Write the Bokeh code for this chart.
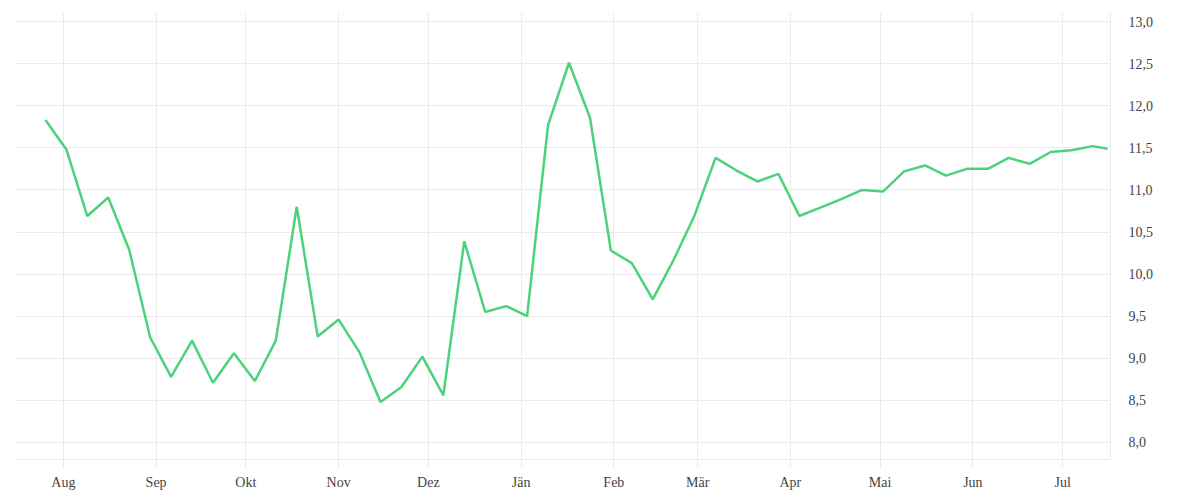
import pandas as pd
from bokeh.plotting import figure
from bokeh.models import Range1d, FixedTicker, LinearAxis, ColumnDataSource
from bokeh.embed import file_html
from bokeh.resources import INLINE

# --- data ---
dates = list(pd.date_range("2022-07-26", periods=51, freq="7D").strftime("%Y-%m-%d")) + ["2023-07-16"]
values = [11.83, 11.48, 10.69, 10.91, 10.29, 9.25, 8.78, 9.21, 8.71, 9.06,
          8.73, 9.21, 10.80, 9.26, 9.46, 9.07, 8.48, 8.66, 9.02, 8.56,
          10.39, 9.55, 9.62, 9.50, 11.77, 12.51, 11.86, 10.28, 10.13, 9.70,
          10.17, 10.70, 11.38, 11.23, 11.10, 11.19, 10.69, 10.79, 10.89, 11.00,
          10.98, 11.22, 11.29, 11.17, 11.25, 11.25, 11.38, 11.31, 11.45, 11.47,
          11.52, 11.49]
month_ticks = ["2022-08-01", "2022-09-01", "2022-10-01", "2022-11-01", "2022-12-01", "2023-01-01",
               "2023-02-01", "2023-03-01", "2023-04-01", "2023-05-01", "2023-06-01", "2023-07-01"]
month_labels = ["Aug", "Sep", "Okt", "Nov", "Dez", "Jän", "Feb", "Mär", "Apr", "Mai", "Jun", "Jul"]
y_ticks = [8.0, 8.5, 9.0, 9.5, 10.0, 10.5, 11.0, 11.5, 12.0, 12.5, 13.0]
y_labels = ["8,0", "8,5", "9,0", "9,5", "10,0", "10,5", "11,0", "11,5", "12,0", "12,5", "13,0"]

FONT = "Liberation Serif"
TEXT = "#444444"
GRID = "#ebebeb"

src = ColumnDataSource(dict(x=pd.to_datetime(dates), y=values))

p = figure(width=1192, height=492, x_axis_type="datetime", y_axis_location=None,
           output_backend="svg", toolbar_location=None,
           min_border_left=15, min_border_right=82, min_border_top=12, min_border_bottom=33)
p.x_range = Range1d(pd.Timestamp("2022-07-16"), pd.Timestamp("2023-07-17"))
p.y_range = Range1d(7.798, 13.107)
p.outline_line_color = None
p.background_fill_color = "white"
p.border_fill_color = "white"

p.line("x", "y", source=src, line_color="#4cd27b", line_width=2.5)

tick_ms = [pd.Timestamp(d).value / 1e6 for d in month_ticks]
xa = p.xaxis[0]
xa.ticker = FixedTicker(ticks=tick_ms)
xa.major_label_overrides = {t: l for t, l in zip(tick_ms, month_labels)}
xa.axis_line_color = GRID
xa.major_tick_line_color = GRID
xa.major_tick_in = 0
xa.major_tick_out = 9
xa.minor_tick_line_color = None
xa.major_label_standoff = 6
xa.major_label_text_font = FONT
xa.major_label_text_font_size = "14px"
xa.major_label_text_color = TEXT

ya = LinearAxis(ticker=FixedTicker(ticks=y_ticks))
ya.major_label_overrides = {t: l for t, l in zip(y_ticks, y_labels)}
ya.axis_line_color = GRID
ya.major_tick_line_color = None
ya.minor_tick_line_color = None
ya.major_tick_in = 0
ya.major_tick_out = 0
ya.major_label_standoff = 18
ya.major_label_text_font = FONT
ya.major_label_text_font_size = "14px"
ya.major_label_text_color = TEXT
p.add_layout(ya, "right")

p.xgrid[0].ticker = xa.ticker
p.xgrid.grid_line_color = GRID
p.ygrid.grid_line_color = GRID
p.ygrid[0].ticker = ya.ticker
p.ygrid[0].dimension = 1

open("out.html", "w").write(file_html(p, INLINE))
